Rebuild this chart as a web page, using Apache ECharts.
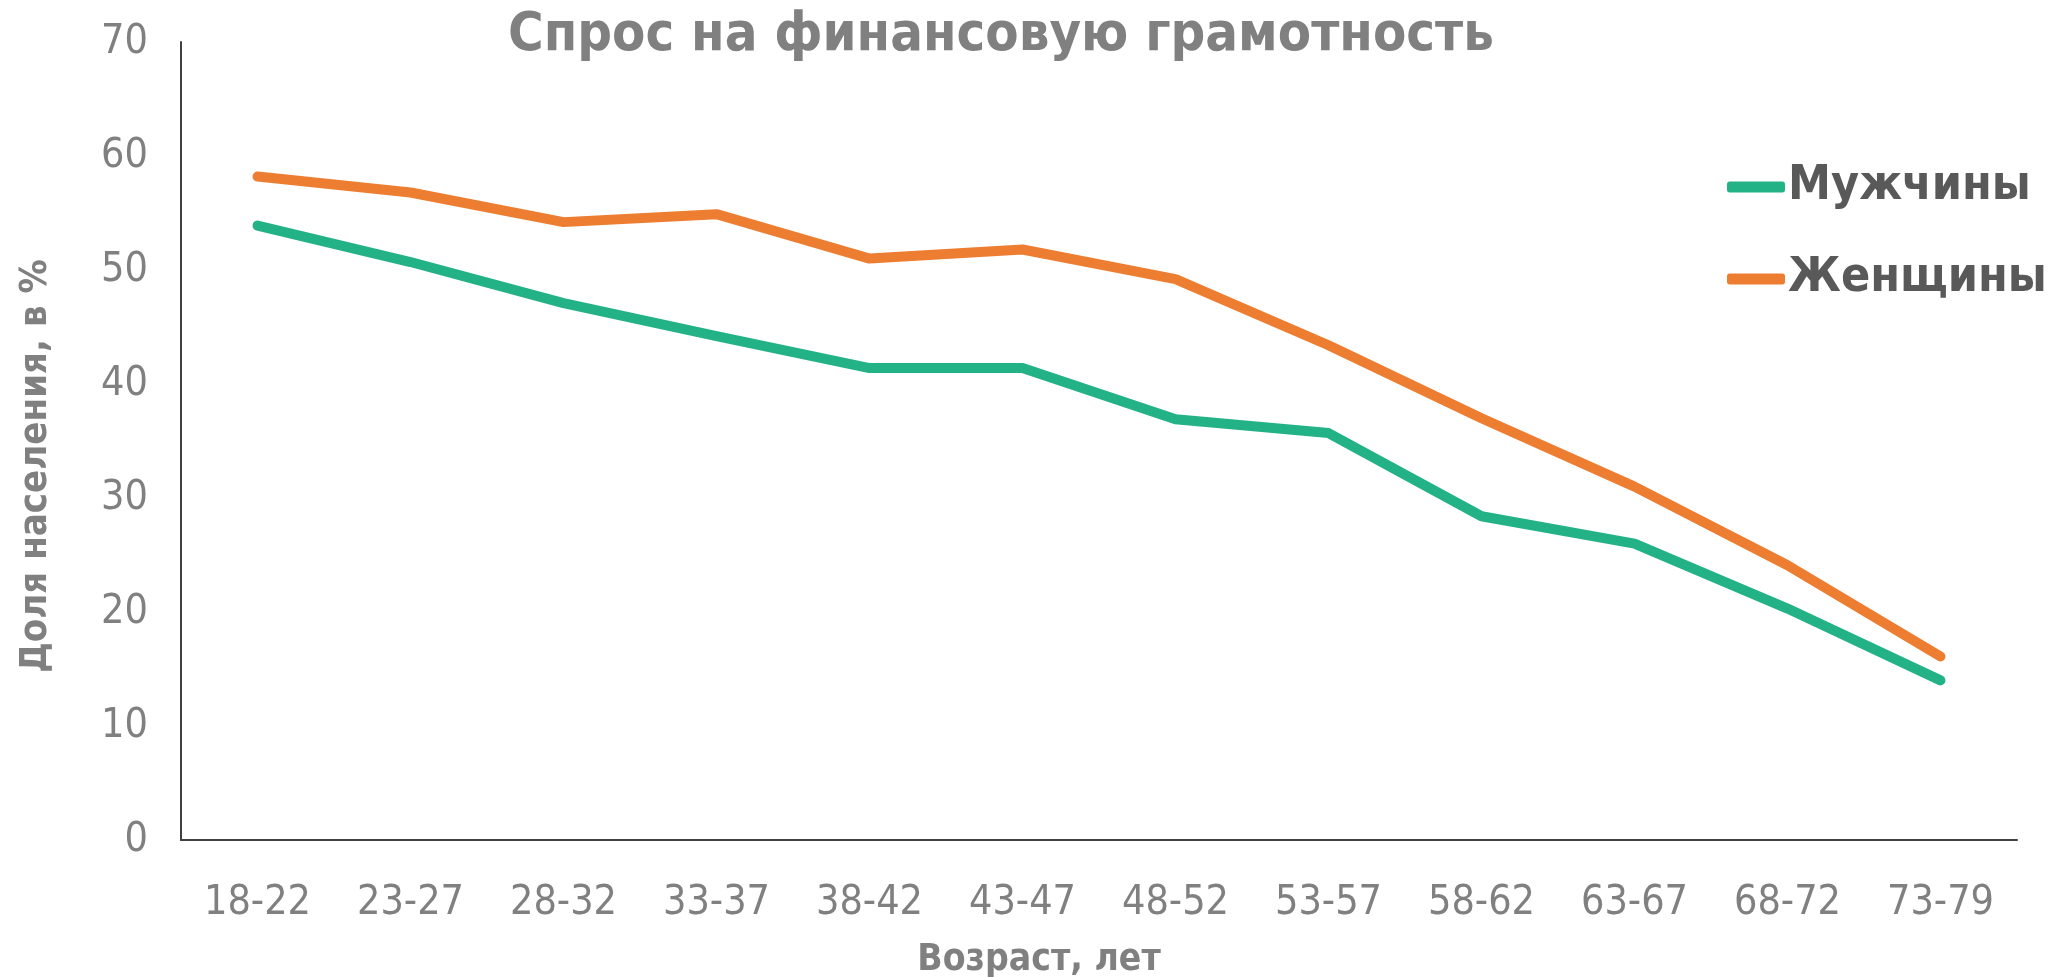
<!DOCTYPE html>
<html>
<head>
<meta charset="utf-8">
<script src="https://cdn.jsdelivr.net/npm/echarts@6/dist/echarts.min.js"></script>
<style>
  html, body { margin: 0; padding: 0; background: #fff; }
  #chart { width: 2049px; height: 977px; }
</style>
</head>
<body>
<div id="chart"></div>
<script>
let ages = ['18-22', '23-27', '28-32', '33-37', '38-42', '43-47', '48-52', '53-57', '58-62', '63-67', '68-72', '73-79']
let men = [53.9, 50.7, 47.1, 44.2, 41.4, 41.4, 36.9, 35.7, 28.4, 26.0, 20.3, 14.0]
let women = [58.2, 56.8, 54.2, 54.9, 51.0, 51.8, 49.2, 43.4, 37.0, 31.0, 24.1, 16.1]

let font = 'DejaVu Sans Condensed, DejaVu Sans, sans-serif'
let gray = '#808080'

let chart = echarts.init(document.getElementById('chart'))

let lineSeries = (name, data, color) => ({
  name: name,
  type: 'line',
  data: data,
  symbol: 'none',
  color: color,
  lineStyle: { width: 10, color: color, cap: 'round', join: 'round' }
})

chart.setOption({
  animation: false,
  textStyle: { fontFamily: font },
  title: {
    text: 'Спрос на финансовую грамотность',
    left: 996,
    top: 4,
    textAlign: 'center',
    textStyle: { fontFamily: font, fontSize: 54, fontWeight: 'bold', color: gray }
  },
  legend: {
    orient: 'vertical',
    left: 1722,
    top: 158,
    itemGap: 44,
    itemWidth: 58,
    itemHeight: 11,
    icon: 'roundRect',
    textStyle: { fontFamily: font, fontSize: 48, fontWeight: 'bold', color: '#595959', padding: [0, 0, 0, -2] },
    data: ['Мужчины', 'Женщины']
  },
  grid: { left: 181, right: 32, top: 42, bottom: 137, outerBoundsMode: 'none' },
  xAxis: {
    type: 'category',
    data: ages,
    name: 'Возраст, лет',
    nameLocation: 'middle',
    nameGap: 102,
    nameTextStyle: { fontFamily: font, fontSize: 37, fontWeight: 'bold', color: gray, padding: [0, 120, 0, 0] },
    axisLine: { lineStyle: { color: '#404040', width: 2 } },
    axisTick: { show: false },
    axisLabel: { fontFamily: font, fontSize: 41, color: gray, margin: 43 }
  },
  yAxis: {
    type: 'value',
    min: 0,
    max: 70,
    interval: 10,
    name: 'Доля населения, в %',
    nameLocation: 'middle',
    nameGap: 126,
    nameTextStyle: { fontFamily: font, fontSize: 38, fontWeight: 'bold', color: gray, padding: [0, 50, 0, 0] },
    axisLine: { show: true, lineStyle: { color: '#404040', width: 2 } },
    axisTick: { show: false },
    splitLine: { show: false },
    axisLabel: { fontFamily: font, fontSize: 41, color: gray, margin: 33 }
  },
  series: [
    lineSeries('Мужчины', men, '#22b286'),
    lineSeries('Женщины', women, '#ed7d31')
  ]
})
</script>
</body>
</html>
